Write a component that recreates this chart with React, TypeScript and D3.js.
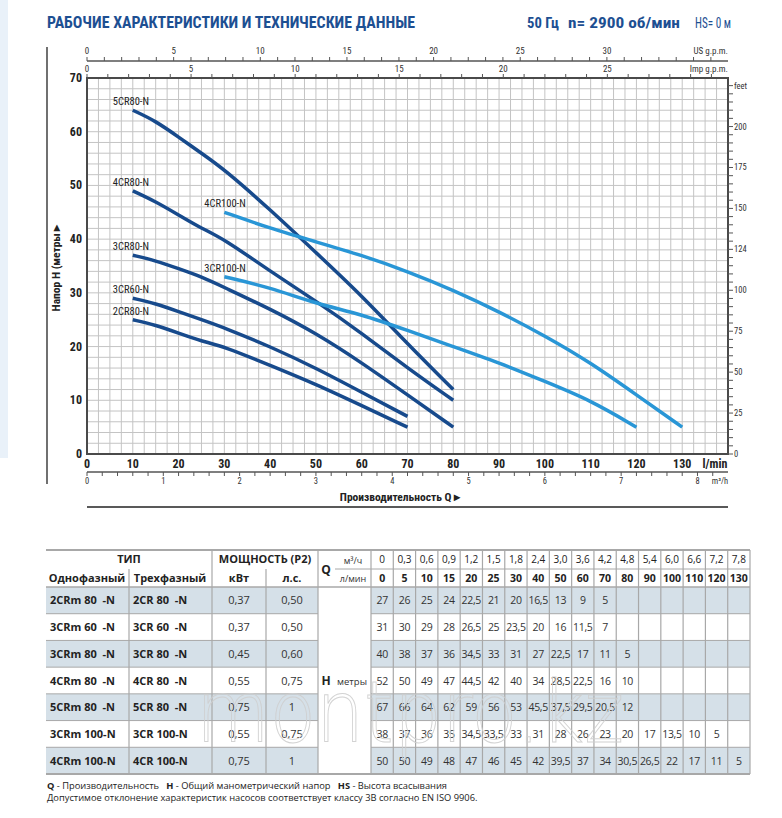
import React from "react";
import * as d3 from "d3";

// ---------- DATA ----------
const Q_LMIN = [0, 5, 10, 15, 20, 25, 30, 40, 50, 60, 70, 80, 90, 100, 110, 120, 130];
const Q_M3H = ["0", "0,3", "0,6", "0,9", "1,2", "1,5", "1,8", "2,4", "3,0", "3,6", "4,2", "4,8", "5,4", "6,0", "6,6", "7,2", "7,8"];

const MONO = ["2CRm 80  -N", "3CRm 60  -N", "3CRm 80  -N", "4CRm 80  -N", "5CRm 80  -N", "3CRm 100-N", "4CRm 100-N"];
const TRI = ["2CR 80  -N", "3CR 60  -N", "3CR 80  -N", "4CR 80  -N", "5CR 80  -N", "3CR 100-N", "4CR 100-N"];
const KW = ["0,37", "0,37", "0,45", "0,55", "0,75", "0,55", "0,75"];
const HP = ["0,50", "0,50", "0,60", "0,75", "1", "0,75", "1"];

const H_2CR80 = [27, 26, 25, 24, 22.5, 21, 20, 16.5, 13, 9, 5];
const H_3CR60 = [31, 30, 29, 28, 26.5, 25, 23.5, 20, 16, 11.5, 7];
const H_3CR80 = [40, 38, 37, 36, 34.5, 33, 31, 27, 22.5, 17, 11, 5];
const H_4CR80 = [52, 50, 49, 47, 44.5, 42, 40, 34, 28.5, 22.5, 16, 10];
const H_5CR80 = [67, 66, 64, 62, 59, 56, 53, 45.5, 37.5, 29.5, 20.5, 12];
const H_3CR100 = [38, 37, 36, 35, 34.5, 33.5, 33, 31, 28, 26, 23, 20, 17, 13.5, 10, 5];
const H_4CR100 = [50, 50, 49, 48, 47, 46, 45, 42, 39.5, 37, 34, 30.5, 26.5, 22, 17, 11, 5];
const TABLE_H = [H_2CR80, H_3CR60, H_3CR80, H_4CR80, H_5CR80, H_3CR100, H_4CR100];

const CURVE_NAMES = ["2CR80-N", "3CR60-N", "3CR80-N", "4CR80-N", "5CR80-N", "3CR100-N", "4CR100-N"];
const CURVE_START_Q = [10, 10, 10, 10, 10, 30, 30];
const CURVE_FAMILY = ["80", "80", "80", "80", "80", "100", "100"];

const Y_TICKS = [0, 10, 20, 30, 40, 50, 60, 70];
const X_TICKS = [0, 10, 20, 30, 40, 50, 60, 70, 80, 90, 100, 110, 120, 130];
const FEET_LABELS = ["0", "25", "50", "75", "100", "124", "150", "175", "200", "feet"];
const US_LABELS = [0, 5, 10, 15, 20, 25, 30];
const IMP_LABELS = [0, 5, 10, 15, 20, 25];
const M3H_LABELS = [0, 1, 2, 3, 4, 5, 6, 7, 8];

// ---------- STYLE ----------
const NARROW = "'Liberation Sans Narrow','Arial Narrow','Roboto Condensed',sans-serif";
const TFONT = "'Open Sans','Noto Sans',sans-serif";
const DARK = "#174a8c";
const LIGHT = "#2996d6";
const TITLE = "#1d4f92";
const GRID = "#c4c4c4";
const SHADE = "#d5e0e8";
const TLINE = "#a8a8a8";

export default function App() {
  const x = d3.scaleLinear().domain([0, 140]).range([87, 728]);
  const y = d3.scaleLinear().domain([0, 70]).range([454, 78]);
  const L_PER_USG = 3.785;
  const L_PER_IMP = 4.546;
  const M_PER_FT = 0.3048;

  const line = d3
    .line<[number, number]>()
    .x((d) => x(d[0]))
    .y((d) => y(d[1]))
    .curve(d3.curveBasis);

  const curves = CURVE_NAMES.map((name, i) => {
    const pts: [number, number][] = [];
    TABLE_H[i].forEach((h, j) => {
      if (Q_LMIN[j] >= CURVE_START_Q[i]) pts.push([Q_LMIN[j], h]);
    });
    return { name, pts, color: CURVE_FAMILY[i] === "100" ? LIGHT : DARK };
  });

  const vGrid = d3.range(0, 140.01, 2.5);
  const hGrid = d3.range(0, 70.01, 2);
  const usTicks = d3.range(0, 140 / L_PER_USG, 1);
  const impTicks = d3.range(0, 140 / L_PER_IMP, 1);
  const m3hTicks = d3.range(0, 140 / 16.6667, 0.2);
  const ftTicks = d3.range(0, 70 / M_PER_FT, 5);

  // table scales
  const cols = d3.scaleBand<string>().domain(Q_M3H).range([371, 750]);
  const rows = d3.scaleBand<string>().domain(TRI).range([587, 774]);
  const rowH = rows.bandwidth();

  return (
    <div style={{ position: "absolute", left: 0, top: 0 }}>
      <svg width={782} height={818} style={{ display: "block", background: "#fff" }}>
        <rect x={0} y={0} width={8} height={458} fill="#e9f1f9" />
        {/* Title */}
        <text x={47} y={28} fontFamily={NARROW} fontWeight="bold" fontSize={16} fill={TITLE} textLength={368} lengthAdjust="spacingAndGlyphs">
          РАБОЧИЕ ХАРАКТЕРИСТИКИ И ТЕХНИЧЕСКИЕ ДАННЫЕ
        </text>
        <text x={527} y={28} fontFamily={NARROW} fontWeight="bold" fontSize={15} fill={TITLE} textLength={32} lengthAdjust="spacingAndGlyphs">50 Гц</text>
        <text x={568} y={28} fontFamily={NARROW} fontWeight="bold" fontSize={15} fill={TITLE} textLength={112} lengthAdjust="spacingAndGlyphs">n= 2900 об/мин</text>
        <text x={695} y={28} fontFamily={NARROW} fontSize={15} fill={TITLE} textLength={36} lengthAdjust="spacingAndGlyphs">HS= 0 м</text>

        <line x1={47} x2={47} y1={47} y2={484} stroke="#111" strokeWidth={1.2} />

        {/* grid */}
        {vGrid.map((v) => (
          <line key={"v" + v} x1={x(v)} x2={x(v)} y1={y(0)} y2={y(70)} stroke={GRID} strokeWidth={1} />
        ))}
        {hGrid.map((v) => (
          <line key={"h" + v} x1={x(0)} x2={x(140)} y1={y(v)} y2={y(v)} stroke={GRID} strokeWidth={1} />
        ))}
        <rect x={x(0)} y={y(70)} width={x(140) - x(0)} height={y(0) - y(70)} fill="none" stroke="#4a4a4a" strokeWidth={2} />

        {/* top US gpm axis */}
        <line x1={x(0)} x2={x(140)} y1={61} y2={61} stroke="#555" strokeWidth={1.5} />
        {usTicks.map((t) => (
          <line key={"us" + t} x1={x(t * L_PER_USG)} x2={x(t * L_PER_USG)} y1={61} y2={57} stroke="#555" strokeWidth={1} />
        ))}
        {US_LABELS.map((t) => (
          <text key={"usl" + t} x={x(t * L_PER_USG)} y={54} fontFamily={NARROW} fontSize={9} fill="#333" textAnchor="middle">{t}</text>
        ))}
        <text x={728} y={54} fontFamily={NARROW} fontSize={9} fill="#333" textAnchor="end">US g.p.m.</text>
        {/* Imp gpm */}
        {impTicks.map((t) => (
          <line key={"imp" + t} x1={x(t * L_PER_IMP)} x2={x(t * L_PER_IMP)} y1={78} y2={74} stroke="#555" strokeWidth={1} />
        ))}
        {IMP_LABELS.map((t) => (
          <text key={"impl" + t} x={x(t * L_PER_IMP)} y={72} fontFamily={NARROW} fontSize={9} fill="#333" textAnchor="middle">{t}</text>
        ))}
        <text x={728} y={72} fontFamily={NARROW} fontSize={9} fill="#333" textAnchor="end">Imp g.p.m.</text>

        {/* left axis */}
        {Y_TICKS.map((t) => (
          <text key={"yl" + t} x={82} y={y(t) + 4} fontFamily={NARROW} fontWeight="bold" fontSize={12} fill="#222" textAnchor="end">{t}</text>
        ))}
        <text transform={`translate(60,268) rotate(-90)`} fontFamily={NARROW} fontWeight="bold" fontSize={11.5} fill="#222" textAnchor="middle">Напор H (метры ▸</text>

        {/* right feet axis */}
        {ftTicks.map((t) => (
          <line key={"ft" + t} x1={728} x2={733} y1={y(t * M_PER_FT)} y2={y(t * M_PER_FT)} stroke="#555" strokeWidth={1} />
        ))}
        {FEET_LABELS.map((lab, i) => (
          <text key={"ftl" + i} x={734} y={y(i * 25 * M_PER_FT) + 3} fontFamily={NARROW} fontSize={8.5} fill="#333">{lab}</text>
        ))}

        {/* bottom l/min */}
        {X_TICKS.map((t) => (
          <text key={"xl" + t} x={x(t)} y={468} fontFamily={NARROW} fontWeight="bold" fontSize={12} fill="#222" textAnchor="middle">{t}</text>
        ))}
        <text x={715} y={468} fontFamily={NARROW} fontWeight="bold" fontSize={12} fill="#222" textAnchor="middle">l/min</text>
        {/* m3/h axis */}
        <line x1={x(0)} x2={x(140)} y1={472} y2={472} stroke="#555" strokeWidth={1.5} />
        {m3hTicks.map((t) => (
          <line key={"m" + t} x1={x(t * 16.6667)} x2={x(t * 16.6667)} y1={472} y2={476} stroke="#555" strokeWidth={1} />
        ))}
        {M3H_LABELS.map((t) => (
          <text key={"ml" + t} x={x(t * 16.6667)} y={484} fontFamily={NARROW} fontSize={8.5} fill="#333" textAnchor="middle">{t}</text>
        ))}
        <text x={720} y={484} fontFamily={NARROW} fontSize={8.5} fill="#333" textAnchor="middle">m³/h</text>
        <text x={400} y={501} fontFamily={NARROW} fontWeight="bold" fontSize={11.5} fill="#222" textAnchor="middle">Производительность Q ▸</text>
        <line x1={x(0)} x2={x(140)} y1={507} y2={507} stroke="#222" strokeWidth={1.5} />

        {/* curves */}
        {curves.map((c) => (
          <path key={c.name} d={line(c.pts) || ""} fill="none" stroke={c.color} strokeWidth={3.5} />
        ))}
        {curves.map((c) => (
          <text key={"lab" + c.name} x={x(c.pts[0][0]) - 20} y={y(c.pts[0][1]) - 5} fontFamily={NARROW} fontSize={10.5} fill="#222">{c.name}</text>
        ))}

        {/* ---------- TABLE ---------- */}
        {TRI.map((r, i) =>
          i % 2 === 0 ? (
            <g key={"sh" + r}>
              <rect x={46} y={rows(r)} width={318 - 46} height={rowH} fill={SHADE} />
              <rect x={371} y={rows(r)} width={750 - 371} height={rowH} fill={SHADE} />
            </g>
          ) : null
        )}
        {/* horizontal lines */}
        <line x1={46} x2={750} y1={550} y2={550} stroke={TLINE} strokeWidth={2} />
        <line x1={335} x2={750} y1={569} y2={569} stroke={TLINE} strokeWidth={1} />
        <line x1={46} x2={750} y1={587} y2={587} stroke={TLINE} strokeWidth={1.5} />
        {TRI.map((r) => (
          <g key={"hl" + r}>
            <line x1={46} x2={318} y1={(rows(r) as number) + rowH} y2={(rows(r) as number) + rowH} stroke={TLINE} strokeWidth={1} />
            <line x1={371} x2={750} y1={(rows(r) as number) + rowH} y2={(rows(r) as number) + rowH} stroke={TLINE} strokeWidth={1} />
          </g>
        ))}
        <line x1={46} x2={750} y1={774} y2={774} stroke={TLINE} strokeWidth={2} />
        {/* vertical lines */}
        <line x1={129} x2={129} y1={569} y2={774} stroke={TLINE} strokeWidth={1.2} />
        <line x1={212} x2={212} y1={550} y2={774} stroke={TLINE} strokeWidth={1.2} />
        <line x1={266} x2={266} y1={569} y2={774} stroke={TLINE} strokeWidth={1.2} />
        <line x1={318} x2={318} y1={550} y2={774} stroke={TLINE} strokeWidth={1.2} />
        {Q_M3H.map((q) => (
          <line key={"vc" + q} x1={cols(q)} x2={cols(q)} y1={550} y2={774} stroke={TLINE} strokeWidth={1.2} />
        ))}
        <line x1={750} x2={750} y1={550} y2={774} stroke={TLINE} strokeWidth={1.2} />

        {/* header texts */}
        <text x={129} y={563} fontFamily={TFONT} fontWeight="bold" fontSize={11} fill="#222" textAnchor="middle">ТИП</text>
        <text x={265} y={563} fontFamily={TFONT} fontWeight="bold" fontSize={11} fill="#222" textAnchor="middle">МОЩНОСТЬ (P2)</text>
        <text x={87} y={582} fontFamily={TFONT} fontWeight="bold" fontSize={11} fill="#222" textAnchor="middle">Однофазный</text>
        <text x={170} y={582} fontFamily={TFONT} fontWeight="bold" fontSize={11} fill="#222" textAnchor="middle">Трехфазный</text>
        <text x={239} y={582} fontFamily={TFONT} fontWeight="bold" fontSize={11} fill="#222" textAnchor="middle">кВт</text>
        <text x={292} y={582} fontFamily={TFONT} fontWeight="bold" fontSize={11} fill="#222" textAnchor="middle">л.с.</text>
        <text x={326} y={574} fontFamily={TFONT} fontWeight="bold" fontSize={12} fill="#222" textAnchor="middle">Q</text>
        <text x={353} y={564} fontFamily={TFONT} fontSize={9} fill="#333" textAnchor="middle">м³/ч</text>
        <text x={353} y={582} fontFamily={TFONT} fontSize={9} fill="#333" textAnchor="middle">л/мин</text>
        {Q_M3H.map((q, j) => (
          <g key={"qh" + q}>
            <text x={(cols(q) as number) + cols.bandwidth() / 2} y={563} fontFamily={TFONT} fontSize={10} fill="#222" textAnchor="middle">{q}</text>
            <text x={(cols(q) as number) + cols.bandwidth() / 2} y={582} fontFamily={TFONT} fontWeight="bold" fontSize={10.5} fill="#222" textAnchor="middle">{Q_LMIN[j]}</text>
          </g>
        ))}
        {/* H cell */}
        <text x={326} y={685} fontFamily={TFONT} fontWeight="bold" fontSize={12} fill="#222" textAnchor="middle">H</text>
        <text x={352} y={685} fontFamily={TFONT} fontSize={9.5} fill="#333" textAnchor="middle">метры</text>

        {/* rows */}
        {TRI.map((r, i) => {
          const cy = (rows(r) as number) + rowH / 2 + 4;
          return (
            <g key={"row" + r}>
              <text x={50} y={cy} fontFamily={TFONT} fontWeight="bold" fontSize={11} fill="#222" style={{ whiteSpace: "pre" }}>{MONO[i]}</text>
              <text x={133} y={cy} fontFamily={TFONT} fontWeight="bold" fontSize={11} fill="#222" style={{ whiteSpace: "pre" }}>{r}</text>
              <text x={239} y={cy} fontFamily={TFONT} fontSize={11} fill="#333" textAnchor="middle">{KW[i]}</text>
              <text x={292} y={cy} fontFamily={TFONT} fontSize={11} fill="#333" textAnchor="middle">{HP[i]}</text>
              {TABLE_H[i].map((h, j) => (
                <text key={j} x={(cols(Q_M3H[j]) as number) + cols.bandwidth() / 2} y={cy} fontFamily={TFONT} fontSize={10.5} letterSpacing={-0.3} fill="#333" textAnchor="middle">
                  {String(h).replace(".", ",")}
                </text>
              ))}
            </g>
          );
        })}

        {/* watermark */}
        <text x={196} y={742} fontFamily="'DejaVu Sans',sans-serif" fontWeight="200" fontSize={86} fill="none" stroke="#cfcfcf" strokeWidth={1} textLength={428} lengthAdjust="spacingAndGlyphs" opacity={0.9}>montpro.kz</text>

        {/* footnotes */}
        <text x={47} y={789} fontFamily={TFONT} fontSize={9.3} fill="#222" style={{ whiteSpace: "pre" }}>
          <tspan fontWeight="bold">Q</tspan>{" - Производительность   "}
          <tspan fontWeight="bold">H</tspan>{" - Общий манометрический напор   "}
          <tspan fontWeight="bold">HS</tspan>{" - Высота всасывания"}
        </text>
        <text x={47} y={801} fontFamily={TFONT} fontSize={9.3} fill="#222">
          Допустимое отклонение характеристик насосов соответствует классу 3B согласно EN ISO 9906.
        </text>
      </svg>
    </div>
  );
}
